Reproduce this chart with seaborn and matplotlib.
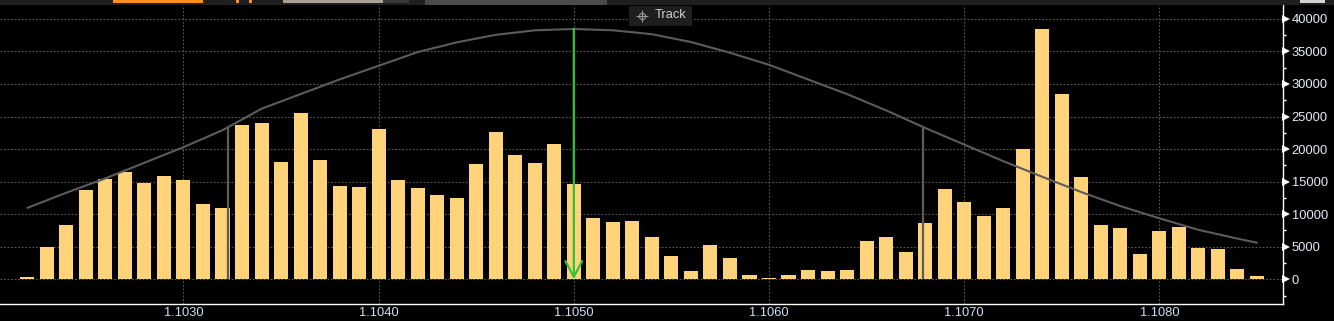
import numpy as np
import pandas as pd
import matplotlib
matplotlib.use("Agg")
import matplotlib.pyplot as plt
import matplotlib.transforms as mtransforms
from matplotlib.patches import Rectangle
from matplotlib.lines import Line2D
from matplotlib.ticker import MultipleLocator, FormatStrFormatter
import seaborn as sns

# ---------------- data ----------------
price_start = 1.1022
price_step = 0.0001
volumes = [400, 5000, 8350, 13750, 15450, 16500, 14800, 15900, 15300, 11600, 10950,
           23750, 24050, 18050, 25600, 18350, 14350, 14200, 23150, 15300, 14050, 12950,
           12500, 17750, 22650, 19100, 17900, 20800, 14650, 9450, 8800, 8950, 6500,
           3600, 1300, 5300, 3300, 700, 160, 700, 1450, 1300, 1450, 5900, 6500, 4200,
           8650, 13900, 11900, 9750, 10950, 20050, 38500, 28500, 15750, 8350, 7900,
           3900, 7450, 8050, 4800, 4650, 1600, 500]
prices = [round(price_start + i * price_step, 4) for i in range(len(volumes))]

curve_prices = [1.1022, 1.1024, 1.1026, 1.1028, 1.1030, 1.1032, 1.1034, 1.1036,
                1.1038, 1.1040, 1.1042, 1.1044, 1.1046, 1.1048, 1.1050, 1.1052,
                1.1054, 1.1056, 1.1058, 1.1060, 1.1062, 1.1064, 1.1066, 1.1068,
                1.1070, 1.1072, 1.1074, 1.1076, 1.1078, 1.1080, 1.1082, 1.1084, 1.1085]
curve_values = [10970, 13300, 15500, 17900, 20300, 22900, 26200, 28450,
                30700, 32800, 34900, 36400, 37550, 38250, 38450, 38250,
                37650, 36450, 34800, 32950, 30700, 28450, 25950, 23250,
                20700, 18150, 15750, 13400, 11250, 9370, 7600, 6250, 5620]

sigma_prices = [1.10323, 1.10679]
sigma_heights = [23230, 23450]

mean_price = 1.1050
mean_height = 38450

y_ticks = [0, 5000, 10000, 15000, 20000, 25000, 30000, 35000, 40000]
x_ticks = [1.1030, 1.1040, 1.1050, 1.1060, 1.1070, 1.1080]

# ---------------- style ----------------
W, H = 1334, 321
DPI = 100
sns.set_theme(style="dark")
plt.rcParams['font.family'] = ['Liberation Sans', 'DejaVu Sans']

BAR = '#FFD37A'
CURVE = '#5c5c5c'
GRID = '#575757'
GREEN = '#33c23a'

fig = plt.figure(figsize=(W / DPI, H / DPI), dpi=DPI, facecolor='black')

def px_rect(x0, y0, x1, y1, color, z=5):
    """rectangle in figure pixel coords measured from top-left"""
    r = Rectangle((x0 / W, 1 - y1 / H), (x1 - x0) / W, (y1 - y0) / H,
                  transform=fig.transFigure, facecolor=color, edgecolor='none',
                  zorder=z)
    fig.add_artist(r)

ax_left, ax_right = 0, 1282.7
ax_top, ax_bottom = 5, 304
ax = fig.add_axes([ax_left / W, (H - ax_bottom) / H,
                   (ax_right - ax_left) / W, (ax_bottom - ax_top) / H])
ax.set_facecolor('black')

df = pd.DataFrame({'price': prices, 'volume': volumes})
sns.barplot(data=df, x='price', y='volume', native_scale=True, width=0.72,
            color=BAR, saturation=1, errorbar=None, linewidth=0, ax=ax, zorder=2)

cdf = pd.DataFrame({'price': curve_prices, 'value': curve_values})
sns.lineplot(data=cdf, x='price', y='value', color=CURVE, linewidth=1.5, ax=ax,
             zorder=3)

ax.vlines(sigma_prices, 0, sigma_heights, color=CURVE, linewidth=1.6, zorder=3)

ax.annotate('', xy=(mean_price, 0), xytext=(mean_price, mean_height),
            arrowprops=dict(arrowstyle='->,head_length=0.95,head_width=0.5',
                            color=GREEN, lw=1.6, shrinkA=0, shrinkB=0),
            zorder=4)

# axes limits (pixel calibrated)
ax.set_xlim(1.10206, 1.108632)
ax.set_ylim(-3794, 42135)

ax.set_xlabel('')
ax.set_ylabel('')
ax.set_xticks(x_ticks)
ax.xaxis.set_major_formatter(FormatStrFormatter('%.4f'))
ax.set_yticks(y_ticks)
ax.yaxis.set_minor_locator(MultipleLocator(2500))
ax.yaxis.tick_right()

ax.grid(True, which='major', color=GRID, linestyle=(0, (1.6, 1.6)), linewidth=0.8)
ax.set_axisbelow(True)

for s in ['top', 'left']:
    ax.spines[s].set_visible(False)
for s in ['bottom', 'right']:
    ax.spines[s].set_visible(True)
    ax.spines[s].set_color('white')
    ax.spines[s].set_linewidth(1.0)

ax.tick_params(axis='x', which='both', length=0, pad=2.5, labelsize=9.3,
               labelcolor='#cfe0f7')
ax.tick_params(axis='y', which='major', length=0, pad=6.5, labelsize=9.3,
               labelcolor='#e8eef6', right=True, left=False,
               labelright=True, labelleft=False)
ax.tick_params(axis='y', which='minor', length=2.3, width=1, color='white',
               direction='out', right=True, left=False)

# triangle major tick marks on the right spine
tri_tr = mtransforms.blended_transform_factory(ax.transAxes, ax.transData) + \
    mtransforms.ScaledTranslation(3.6 / DPI, 0, fig.dpi_scale_trans)
ax.plot([1] * len(y_ticks), y_ticks, linestyle='none', marker='>', markersize=5.2,
        color='white', markeredgewidth=0, transform=tri_tr, clip_on=False, zorder=6)

# ---------------- top UI strip ----------------
px_rect(0, 0, W, 5, '#1f1f1f', z=10)
px_rect(113, 0, 203, 3, '#f7941d', z=11)
px_rect(236, 0, 239, 3, '#f7941d', z=11)
px_rect(249, 0, 252, 3, '#f7941d', z=11)
px_rect(283, 0, 383, 3, '#a9a398', z=11)
px_rect(383, 0, 409, 3, '#383838', z=11)
px_rect(425, 0, 607, 5, '#4b4b4b', z=11)
px_rect(1300, 0, 1325, 3, '#d2d2d2', z=11)

# "Track" badge
px_rect(629, 6, 692, 25.5, '#1e1e1e', z=10)
fig.text(655 / W, 1 - 15.5 / H, 'Track', color='#cfcfcf', fontsize=9.3,
         ha='left', va='center', zorder=12)
cx, cy = 641.5 / W, 1 - 15.5 / H
fig.add_artist(Line2D([cx], [cy], marker='o', markersize=4.5, markerfacecolor='none',
                      markeredgecolor='#9a9a9a', markeredgewidth=0.8,
                      transform=fig.transFigure, zorder=12))
fig.add_artist(Line2D([cx], [cy], marker='+', markersize=8, markeredgecolor='#9a9a9a',
                      markeredgewidth=0.8, transform=fig.transFigure, zorder=12))

fig.savefig('out.png', dpi=DPI, facecolor='black')
